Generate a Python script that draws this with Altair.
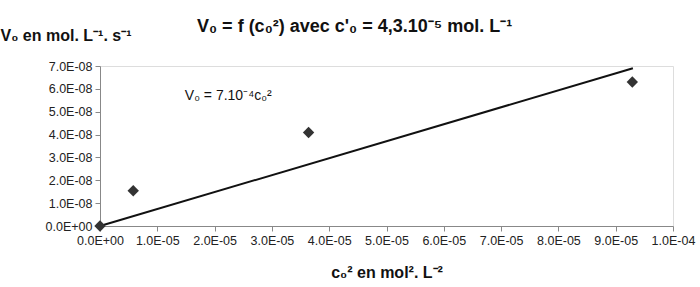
import altair as alt
import pandas as pd

# measured points
x_vals = [0.0, 5.8e-6, 3.64e-5, 9.29e-5]
y_vals = [0.0, 1.54e-8, 4.09e-8, 6.30e-8]

# trend line end points
trend_x = [0.0, 9.3e-5]
trend_y = [0.0, 6.9e-8]

x_ticks = [0.0, 1e-5, 2e-5, 3e-5, 4e-5, 5e-5, 6e-5, 7e-5, 8e-5, 9e-5, 1e-4]
x_tick_labels = ["0.0E+00", "1.0E-05", "2.0E-05", "3.0E-05", "4.0E-05", "5.0E-05",
                 "6.0E-05", "7.0E-05", "8.0E-05", "9.0E-05", "1.0E-04"]
y_ticks = [0.0, 1e-8, 2e-8, 3e-8, 4e-8, 5e-8, 6e-8, 7e-8]
y_tick_labels = ["0.0E+00", "1.0E-08", "2.0E-08", "3.0E-08", "4.0E-08", "5.0E-08",
                 "6.0E-08", "7.0E-08"]

annot_text = ["V₀ = 7.10⁻⁴c₀²"]
annot_x = [1.48e-5]
annot_y = [5.5e-8]

title_text = "V₀ = f (c₀²) avec c'₀ = 4,3.10⁻⁵ mol. L⁻¹"
y_title = "V₀ en mol. L⁻¹. s⁻¹"
x_title = "c₀² en mol². L⁻²"

FONT = "Liberation Sans"

pts = pd.DataFrame({"x": x_vals, "y": y_vals})
trend = pd.DataFrame({"x": trend_x, "y": trend_y})
annot = pd.DataFrame({"x": annot_x, "y": annot_y, "t": annot_text})

x_expr = "[" + ",".join("'%s'" % s for s in x_tick_labels) + "][round(datum.value/1e-5)]"
y_expr = "[" + ",".join("'%s'" % s for s in y_tick_labels) + "][round(datum.value/1e-8)]"

xscale = alt.Scale(domain=[0, 1e-4], nice=False, zero=True)
yscale = alt.Scale(domain=[0, 7e-8], nice=False, zero=True)

common = dict(labelOverlap=False, labelFlush=False, labelFont=FONT, labelFontSize=12.5,
              labelColor="#222222", domainColor="#888888", tickColor="#888888",
              tickSize=5, labelPadding=3, grid=False)

xaxis = alt.Axis(values=x_ticks, tickCount=len(x_ticks), labelExpr=x_expr, title=x_title,
                 titleFontWeight="bold", titleFontSize=16, titleFont=FONT,
                 titleY=51, titleBaseline="alphabetic", titleColor="#111", **common)
yaxis = alt.Axis(values=y_ticks, tickCount=len(y_ticks), labelExpr=y_expr, title=y_title,
                 titleAngle=0, titleAlign="left", titleX=-100, titleY=-26,
                 titleBaseline="alphabetic", titleFontWeight="bold",
                 titleFontSize=16, titleFont=FONT, titleColor="#111", **common)

base = alt.Chart(pts)

points = base.mark_point(shape="diamond", filled=True, size=130, color="#333333", opacity=1).encode(
    x=alt.X("x:Q", scale=xscale, axis=xaxis),
    y=alt.Y("y:Q", scale=yscale, axis=yaxis),
)

line = alt.Chart(trend).mark_line(color="#111111", strokeWidth=2).encode(
    x=alt.X("x:Q", scale=xscale),
    y=alt.Y("y:Q", scale=yscale),
)

text = alt.Chart(annot).mark_text(align="left", baseline="alphabetic", fontSize=14,
                                  font=FONT, color="#111111").encode(
    x=alt.X("x:Q", scale=xscale),
    y=alt.Y("y:Q", scale=yscale),
    text="t:N",
)

chart = alt.layer(line, points, text).properties(
    width=573, height=160,
    title=alt.TitleParams(title_text, anchor="start", dx=197, dy=23, offset=0,
                          baseline="alphabetic", fontSize=18, fontWeight="bold",
                          font=FONT, color="#111"),
    autosize=alt.AutoSizeParams(type="none"),
    padding={"left": 100, "top": 66, "right": 27, "bottom": 61},
).configure_view(stroke=None).configure(background="white")

chart.save("out.html", embed_options={"renderer": "svg", "actions": False})
